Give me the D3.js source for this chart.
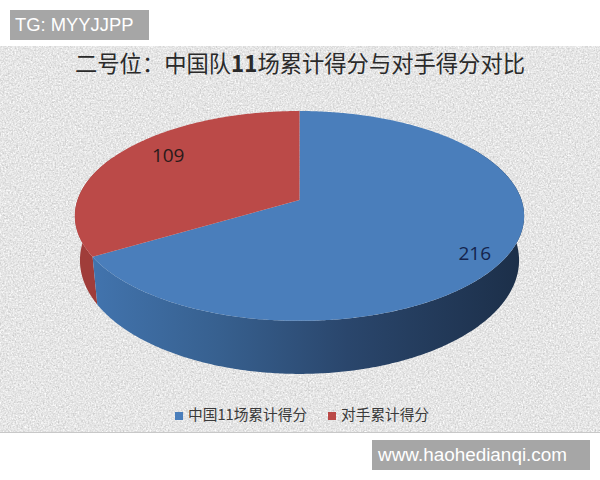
<!DOCTYPE html>
<html>
<head>
<meta charset="utf-8">
<script src="https://cdn.jsdelivr.net/npm/d3@7"></script>
<style>
  html, body { margin: 0; padding: 0; background: #fff; }
  svg { display: block; }
</style>
</head>
<body>
<svg id="chart"></svg>
<script>
// Chart data
const categories = ["中国11场累计得分", "对手累计得分"];
const values = [216, 109];
const colors = ["#4a7ebb", "#bb4a48"];
const wallColors = ["#a03d3a"];
const titleParts = [["二号位：中国队", "normal"], ["11", "bold"], ["场累计得分与对手得分对比", "normal"]];
const watermarks = ["TG: MYYJJPP", "www.haohedianqi.com"];

const width = 600;
const height = 480;
const svg = d3.select("#chart").attr("width", width).attr("height", height);
const defs = svg.append("defs");

// Paper texture for the chart background
const noise = defs.append("filter").attr("id", "paper")
    .attr("x", 0).attr("y", 0).attr("width", "100%").attr("height", "100%")
    .attr("color-interpolation-filters", "sRGB");
noise.append("feTurbulence")
    .attr("type", "fractalNoise").attr("baseFrequency", 0.6)
    .attr("numOctaves", 3).attr("seed", 4);
noise.append("feColorMatrix").attr("values",
    "0.5 0.5 0 0 0  0.5 0.5 0 0 0  0.5 0.5 0 0 0  0 0 0 0 1");
noise.append("feComponentTransfer").selectAll("feFuncX")
    .data(["feFuncR", "feFuncG", "feFuncB"]).enter()
    .append(d => document.createElementNS("http://www.w3.org/2000/svg", d))
    .attr("type", "linear").attr("slope", 0.4).attr("intercept", 0.7);

// Shading of the blue wall
const wallGrad = defs.append("linearGradient").attr("id", "blueWall")
    .attr("gradientUnits", "userSpaceOnUse")
    .attr("x1", 90).attr("x2", 520).attr("y1", 0).attr("y2", 0);
wallGrad.selectAll("stop")
    .data([[0, "#4274ae"], [0.3, "#37608f"], [0.6, "#2a466c"], [1, "#1c2f49"]])
    .enter().append("stop")
    .attr("offset", d => d[0]).attr("stop-color", d => d[1]);

svg.append("rect").attr("x", 0).attr("y", 46).attr("width", width).attr("height", 386)
    .attr("fill", "#e2e2e2").attr("filter", "url(#paper)");
svg.append("line").attr("x1", 0).attr("x2", width).attr("y1", 432.5).attr("y2", 432.5)
    .attr("stroke", "#c8c8c8");

// Disc seen in perspective: the far edge is squeezed, so the true centre
// sits above the middle of the drawn ellipse
const persp = 0.152;
const disc = { cx: 299.5, cy: 200, rx: 222, ry: 102.5 };
const under = { cx: 299.5, cy: 243, rx: 217, ry: 111 };

function project(angle, r, face) {
  const u = Math.sin(angle) * r;
  const v = Math.cos(angle) * r;
  const w = 1 + persp * v;
  return [face.cx + face.rx * u / w, face.cy - face.ry * v / w];
}

function arcPoints(a0, a1, face) {
  const n = Math.max(2, Math.ceil(Math.abs(a1 - a0) / 0.01));
  return d3.range(n + 1).map(i => project(a0 + (a1 - a0) * i / n, 1, face));
}

const pie = d3.pie().sort(null)(values);
const line = d3.line().curve(d3.curveLinear);
const blue = pie[0];
const red = pie[1];

// Side walls, red first so the blue wall's cut edge sits over it
const redWallEnd = red.startAngle + 1.0;
svg.append("path")
    .attr("d", line(arcPoints(red.startAngle, redWallEnd, disc)
        .concat(arcPoints(redWallEnd, red.startAngle, under))) + "Z")
    .attr("fill", wallColors[0]);
const blueWallStart = 1.0;
svg.append("path")
    .attr("d", line(arcPoints(blueWallStart, blue.endAngle, disc)
        .concat(arcPoints(blue.endAngle, blueWallStart, under))) + "Z")
    .attr("fill", "url(#blueWall)");

// Top faces
svg.selectAll("path.slice")
    .data(pie)
    .enter().append("path")
    .attr("class", "slice")
    .attr("d", d => line([project(0, 0, disc)]
        .concat(arcPoints(d.startAngle, d.endAngle, disc))) + "Z")
    .attr("fill", (d, i) => colors[i]);

// Value labels
const labelSpots = [{ r: 0.85, dx: 0, dy: 7 }, { r: 0.7, dx: -3, dy: -11 }];
svg.selectAll("text.value")
    .data(pie)
    .enter().append("text")
    .attr("class", "value")
    .attr("x", d => project((d.startAngle + d.endAngle) / 2, labelSpots[d.index].r, disc)[0] + labelSpots[d.index].dx)
    .attr("y", d => project((d.startAngle + d.endAngle) / 2, labelSpots[d.index].r, disc)[1] + labelSpots[d.index].dy)
    .attr("text-anchor", "middle")
    .attr("dominant-baseline", "central")
    .attr("font-family", "'Open Sans', 'Noto Sans', sans-serif")
    .attr("font-size", 19)
    .attr("fill", (d, i) => i === 0 ? "#14244d" : "#2a1a1a")
    .text(d => d.value);

// Title
svg.append("text")
    .attr("x", 300).attr("y", 72)
    .attr("text-anchor", "middle")
    .attr("font-family", "'Noto Sans CJK SC', sans-serif")
    .attr("font-size", 22.3)
    .attr("fill", "#2a2a2a")
    .selectAll("tspan")
    .data(titleParts)
    .enter().append("tspan")
    .attr("font-weight", d => d[1])
    .text(d => d[0]);

// Legend
const legendX = [175, 328];
const legend = svg.selectAll("g.legend")
    .data(categories)
    .enter().append("g")
    .attr("class", "legend")
    .attr("transform", (d, i) => `translate(${legendX[i]},412)`);
legend.append("rect").attr("width", 8).attr("height", 8)
    .attr("fill", (d, i) => colors[i]);
legend.append("text")
    .attr("x", 13).attr("y", 8)
    .attr("font-family", "'Noto Sans CJK SC', sans-serif")
    .attr("font-size", 14.7)
    .attr("fill", "#3a3a3a")
    .text(d => d);

// Watermark boxes
const markBoxes = [[10, 10, 139, 30, 15, 18.4], [372, 440, 218, 30, 378, 18.9]];
svg.selectAll("g.mark")
    .data(watermarks)
    .enter().append("g")
    .attr("class", "mark")
    .each(function(d, i) {
      const b = markBoxes[i];
      const g = d3.select(this);
      g.append("rect").attr("x", b[0]).attr("y", b[1]).attr("width", b[2]).attr("height", b[3])
          .attr("fill", "#a6a6a6");
      g.append("text").attr("x", b[4]).attr("y", b[1] + 21)
          .attr("font-family", "'Liberation Sans', Arial, sans-serif")
          .attr("font-size", b[5])
          .attr("fill", "#fff")
          .text(d);
    });
</script>
</body>
</html>
